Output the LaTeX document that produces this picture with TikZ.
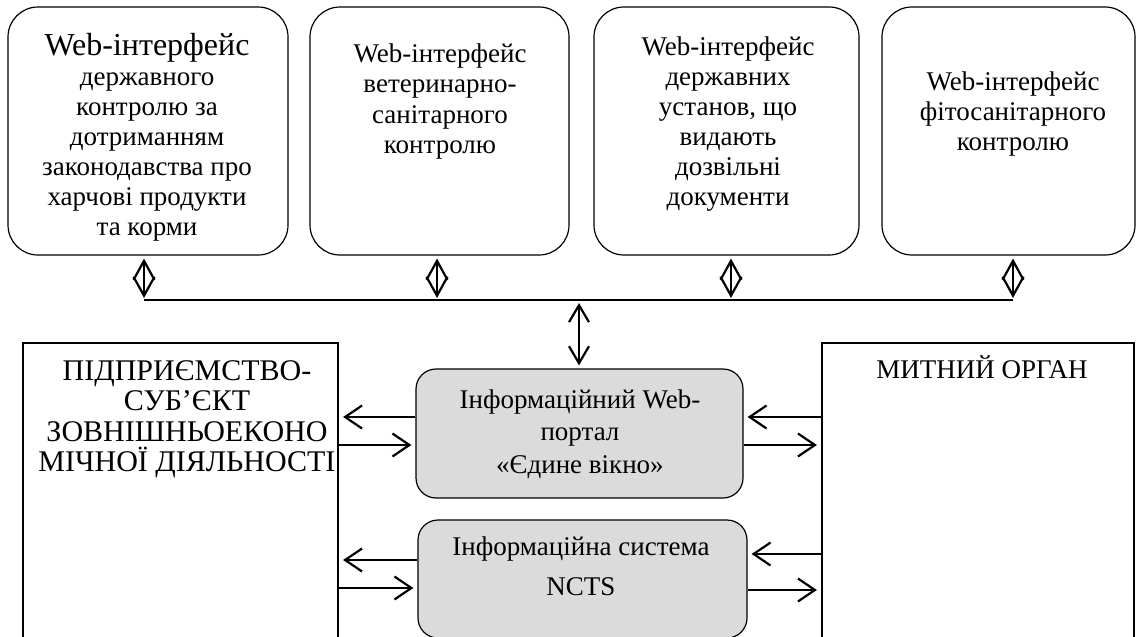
\documentclass[tikz,border=0pt]{standalone}
\usepackage{fontspec}
\setmainfont{Liberation Serif}
\usetikzlibrary{arrows.meta}
\begin{document}
\begin{tikzpicture}[x=1pt,y=-1pt,
  topbox/.style={draw, line width=1.2pt, rounded corners=30pt, inner sep=0pt},
  graybox/.style={draw, line width=1.2pt, rounded corners=20pt, fill=black!14, inner sep=0pt},
  bigbox/.style={draw, line width=2.2pt, inner sep=0pt},
  txt/.style={align=center, inner sep=0pt, font=\fontsize{27}{30.5}\selectfont},
  sidetxt/.style={align=center, inner sep=0pt, font=\fontsize{30}{30.5}\selectfont},
  link/.style={line width=2.2pt},
  dblarr/.style={line width=2.2pt, {Straight Barb[length=19pt,width=21pt,line width=2.2pt]}-{Straight Barb[length=19pt,width=21pt,line width=2.2pt]}},
  cenarr/.style={line width=2.2pt, {Straight Barb[length=17pt,width=20pt,line width=2.2pt]}-{Straight Barb[length=17pt,width=20pt,line width=2.2pt]}},
  harr/.style={line width=2.2pt, -{Straight Barb[length=17pt,width=23pt,line width=2.2pt]}}
]
\clip (0,0) rectangle (1136,637);
\fill[white] (0,0) rectangle (1136,637);

% top boxes
\node[topbox, minimum width=280pt, minimum height=248pt] (b1) at (148,131) {};
\node[topbox, minimum width=259pt, minimum height=248pt] (b2) at (439.5,131) {};
\node[topbox, minimum width=265pt, minimum height=248pt] (b3) at (726.5,131) {};
\node[topbox, minimum width=253pt, minimum height=248pt] (b4) at (1008.5,131) {};

\node[txt, anchor=north, font=\fontsize{27}{30}\selectfont] (t1) at (147,33) {{\fontsize{32}{30}\selectfont Web-інтерфейс}\\державного\\контролю за\\дотриманням\\законодавства про\\харчові продукти\\та корми};
\node[txt, anchor=north] (t2) at (440,43.4) {Web-інтерфейс\\ветеринарно-\\санітарного\\контролю};
\node[txt, anchor=north, font=\fontsize{27}{30}\selectfont] (t3) at (728,36.4) {Web-інтерфейс\\державних\\установ, що\\видають\\дозвільні\\документи};
\node[txt, anchor=north, font=\fontsize{27}{30}\selectfont] (t4) at (1013,71.4) {Web-інтерфейс\\фітосанітарного\\контролю};

% bus
\coordinate (j1) at (144,300);
\coordinate (j2) at (437,300);
\coordinate (j3) at (731,300);
\coordinate (j4) at (1013,300);
\coordinate (jc) at (579,300);
\draw[link] (j1) -- (j4);
\draw[dblarr, shorten <=3pt, shorten >=2pt] (b1.south -| j1) -- (j1);
\draw[dblarr, shorten <=3pt, shorten >=2pt] (b2.south -| j2) -- (j2);
\draw[dblarr, shorten <=3pt, shorten >=2pt] (b3.south -| j3) -- (j3);
\draw[dblarr, shorten <=3pt, shorten >=2pt] (b4.south -| j4) -- (j4);

% big side boxes
\node[bigbox, minimum width=315pt, minimum height=400pt] (lb) at (180.5,543) {};
\node[bigbox, minimum width=312pt, minimum height=400pt] (rb) at (978,543) {};
\node[sidetxt, anchor=north] (lt) at (187,360) {ПІДПРИЄМСТВО-\\СУБ’ЄКТ\\ЗОВНІШНЬОЕКОНО\\МІЧНОЇ ДІЯЛЬНОСТІ};
\node[txt, anchor=base] (rt) at (982,378) {МИТНИЙ ОРГАН};

% gray boxes
\node[graybox, minimum width=327pt, minimum height=129pt] (g1) at (579.5,433.5) {};
\node[graybox, minimum width=329pt, minimum height=118pt] (g2) at (582.5,579) {};
\node[txt, anchor=north, font=\fontsize{27}{32.5}\selectfont] (gt1) at (580,389.4) {Інформаційний Web-\\портал\\«Єдине вікно»};
\node[txt, anchor=north] (gt2) at (581,536.4) {Інформаційна система\\[9.5pt]NCTS};

\draw[cenarr, shorten <=3pt, shorten >=3pt] (jc) -- (g1.north -| jc);

% horizontal arrows
\coordinate (h1) at (0,417);
\coordinate (h2) at (0,445);
\coordinate (h3) at (0,560);
\coordinate (h4) at (0,588);
\coordinate (h5) at (0,554);
\coordinate (h6) at (0,590);
\draw[harr, shorten >=4pt] (g1.west |- h1) -- (lb.east |- h1);
\draw[harr, shorten >=4pt] (lb.east |- h2) -- (g1.west |- h2);
\draw[harr, shorten >=4pt] (rb.west |- h1) -- (g1.east |- h1);
\draw[harr, shorten >=4pt] (g1.east |- h2) -- (rb.west |- h2);
\draw[harr, shorten >=4pt] (g2.west |- h3) -- (lb.east |- h3);
\draw[harr, shorten >=4pt] (lb.east |- h4) -- (g2.west |- h4);
\draw[harr, shorten >=4pt] (rb.west |- h5) -- (g2.east |- h5);
\draw[harr, shorten >=4pt] (g2.east |- h6) -- (rb.west |- h6);
\end{tikzpicture}
\end{document}
